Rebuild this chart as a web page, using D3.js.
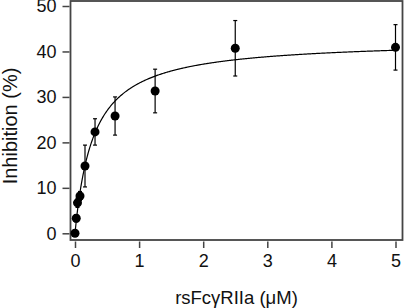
<!DOCTYPE html>
<html>
<head>
<meta charset="utf-8">
<script src="https://cdn.jsdelivr.net/npm/d3@7"></script>
<style>
  body { margin: 0; background: #fff; }
  svg text { font-family: 'Liberation Sans', Arial, sans-serif; fill: #111; }
</style>
</head>
<body>
<div class="canvas"></div>
<script>
'use strict';

// concentration (uM), mean inhibition (%), error (+/-)
var conc = [0, 0.0195, 0.039, 0.078, 0.156, 0.3125, 0.625, 1.25, 2.5, 5];
var inhibition = [0, 3.3, 6.7, 8.2, 14.8, 22.3, 25.8, 31.3, 40.7, 40.9];
var errors = [0.4, 0.8, 1.0, 1.0, 4.6, 2.9, 4.2, 4.8, 6.1, 5.0];
var xTicks = [0, 1, 2, 3, 4, 5];
var yTicks = [0, 10, 20, 30, 40, 50];

// one-site binding fit: y = BMAX * x / (KD + x)
var BMAX = 42.6;
var KD = 0.29;

var svg = d3.select('.canvas').append('svg')
  .attr('width', 404)
  .attr('height', 308);

var x = d3.scaleLinear().domain([0, 5]).range([75, 395.5]);
var y = d3.scaleLinear().domain([0, 50]).range([233.3, 6]);

// frame
svg.append('rect')
  .attr('x', 70.5).attr('y', 1)
  .attr('width', 332).attr('height', 239)
  .style('fill', 'none')
  .style('stroke', '#444')
  .style('stroke-width', 1.8);

// y axis
var yAxis = svg.append('g')
  .attr('transform', 'translate(69.5,0)')
  .call(d3.axisLeft(y).tickValues(yTicks).tickFormat(d3.format('d'))
    .tickSize(7).tickPadding(6));
yAxis.select('.domain').remove();

// x axis
var xAxis = svg.append('g')
  .attr('transform', 'translate(0,241.5)')
  .call(d3.axisBottom(x).tickValues(xTicks).tickFormat(d3.format('d'))
    .tickSize(6.5).tickPadding(6));
xAxis.select('.domain').remove();

svg.selectAll('.tick line')
  .style('stroke', '#444')
  .style('stroke-width', 1.5);
svg.selectAll('.tick text')
  .style('font-size', '18px')
  .style('font-family', "'Liberation Sans', Arial, sans-serif")
  .style('fill', '#111');

// fitted curve
var curvePts = d3.range(0, 5.0001, 0.01).map(function(c) {
  return [c, BMAX * c / (KD + c)];
});
svg.append('path')
  .datum(curvePts)
  .attr('d', d3.line()
    .x(function(d) { return x(d[0]); })
    .y(function(d) { return y(d[1]); }))
  .style('fill', 'none')
  .style('stroke', '#000')
  .style('stroke-width', 1.2);

var pts = conc.map(function(c, i) {
  return { c: c, v: inhibition[i], e: errors[i] };
});

// error bars
var bars = svg.append('g').selectAll('g')
  .data(pts)
  .enter()
  .append('g')
  .style('stroke', '#000')
  .style('stroke-width', 1.2);
bars.append('line')
  .attr('x1', function(d) { return x(d.c); })
  .attr('x2', function(d) { return x(d.c); })
  .attr('y1', function(d) { return y(d.v - d.e); })
  .attr('y2', function(d) { return y(d.v + d.e); });
bars.append('line')
  .attr('x1', function(d) { return x(d.c) - 2; })
  .attr('x2', function(d) { return x(d.c) + 2; })
  .attr('y1', function(d) { return y(d.v + d.e); })
  .attr('y2', function(d) { return y(d.v + d.e); });
bars.append('line')
  .attr('x1', function(d) { return x(d.c) - 2; })
  .attr('x2', function(d) { return x(d.c) + 2; })
  .attr('y1', function(d) { return y(d.v - d.e); })
  .attr('y2', function(d) { return y(d.v - d.e); });

// points
svg.append('g').selectAll('circle')
  .data(pts)
  .enter()
  .append('circle')
  .attr('cx', function(d) { return x(d.c); })
  .attr('cy', function(d) { return y(d.v); })
  .attr('r', 4.5)
  .style('fill', '#000');

// axis titles
svg.append('text')
  .attr('x', 236.5)
  .attr('y', 304)
  .attr('text-anchor', 'middle')
  .style('font-size', '18.5px')
  .text('rsFcγRIIa (μM)');

svg.append('text')
  .attr('transform', 'translate(17,126) rotate(-90)')
  .attr('text-anchor', 'middle')
  .style('font-size', '20px')
  .text('Inhibition (%)');
</script>
</body>
</html>
